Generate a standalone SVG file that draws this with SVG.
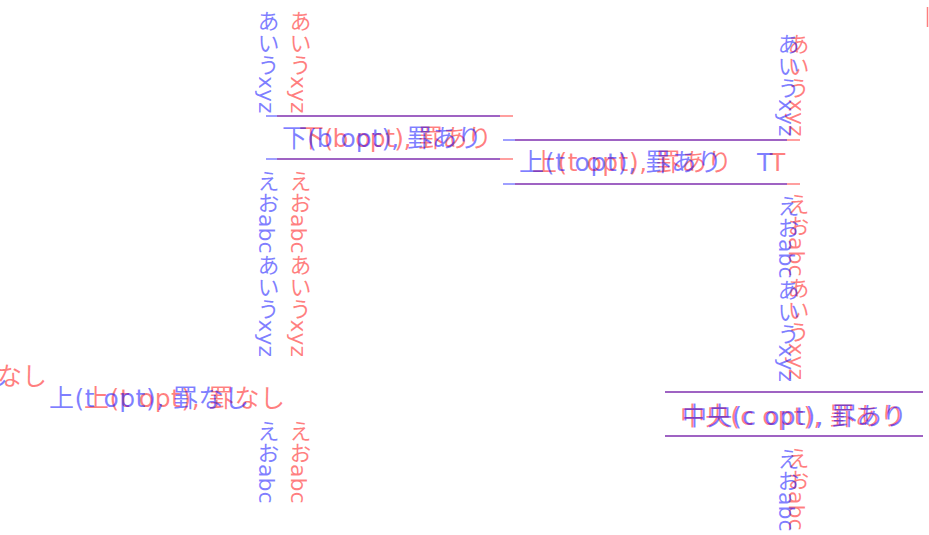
<svg xmlns="http://www.w3.org/2000/svg" width="929" height="535" viewBox="0 0 929 535">
<style>
text{font-family:"DejaVu Sans","Noto Sans CJK JP",sans-serif}
.h{font-size:25px}
.v{font-size:22px;writing-mode:vertical-rl}
.r{fill:#ff0000;fill-opacity:.5}
.b{fill:#0000ff;fill-opacity:.5}
.lr{stroke:#ff0000;stroke-opacity:.5;stroke-width:1.5}
.lb{stroke:#0000ff;stroke-opacity:.5;stroke-width:1.5}
</style>
<rect width="929" height="535" fill="#fff"/>
<g id="connectors">
<line class="lr" x1="277" y1="116" x2="513" y2="116"/>
<line class="lr" x1="277" y1="159" x2="513" y2="159"/>
<line class="lr" x1="515" y1="140" x2="800" y2="140"/>
<line class="lr" x1="515" y1="184" x2="800" y2="184"/>
<line class="lr" x1="665" y1="392" x2="923" y2="392"/>
<line class="lr" x1="665" y1="436" x2="923" y2="436"/>
<line class="lr" x1="927.5" y1="7" x2="927.5" y2="27"/>
<line class="lb" x1="266" y1="116" x2="500" y2="116"/>
<line class="lb" x1="266" y1="159" x2="500" y2="159"/>
<line class="lb" x1="503" y1="140" x2="787" y2="140"/>
<line class="lb" x1="503" y1="184" x2="787" y2="184"/>
<line class="lb" x1="665" y1="392" x2="923" y2="392"/>
<line class="lb" x1="665" y1="436" x2="923" y2="436"/>
</g>
<g id="node-red">
<text class="v r" x="298" y="10">あいうxyz</text>
<text class="v r" x="298" y="170">えおabcあいうxyz</text>
<text class="v r" x="298" y="420">えおabc</text>
<text class="v r" x="796" y="33">あいうxyz</text>
<text class="v r" x="796" y="193">えおabcあいうxyz</text>
<text class="v r" x="796" y="447">えおabc</text>
<text class="h r" x="299" y="147" textLength="193">下(b opt), 罫あり</text>
<text class="h r" x="532" y="171" textLength="200">上(t opt), 罫あり</text>
<text class="h r" x="770" y="171">T</text>
<text class="h r" x="680" y="425" textLength="225">中央(c opt), 罫あり</text>
<text class="h r" x="84" y="407" textLength="201">上(t opt), 罫なし</text>
<text class="h r" x="47" y="385" text-anchor="end">上(t opt), 罫なし</text>
</g>
<g id="node-blue">
<text class="v b" x="266" y="10">あいうxyz</text>
<text class="v b" x="266" y="170">えおabcあいうxyz</text>
<text class="v b" x="266" y="420">えおabc</text>
<text class="v b" x="786" y="33">あいうxyz</text>
<text class="v b" x="786" y="195">えおabcあいうxyz</text>
<text class="v b" x="786" y="448">えおabc</text>
<text class="h b" x="282" y="147" textLength="200">下(b opt), 罫あり</text>
<text class="h b" x="519" y="171" textLength="203">上(t opt), 罫あり</text>
<text class="h b" x="757" y="171">T</text>
<text class="h b" x="682" y="425" textLength="225">中央(c opt), 罫あり</text>
<text class="h b" x="49" y="407" textLength="200">上(t opt), 罫なし</text>
<text class="h b" x="8" y="385" text-anchor="end">上(t opt), 罫なし</text>
</g>
</svg>
